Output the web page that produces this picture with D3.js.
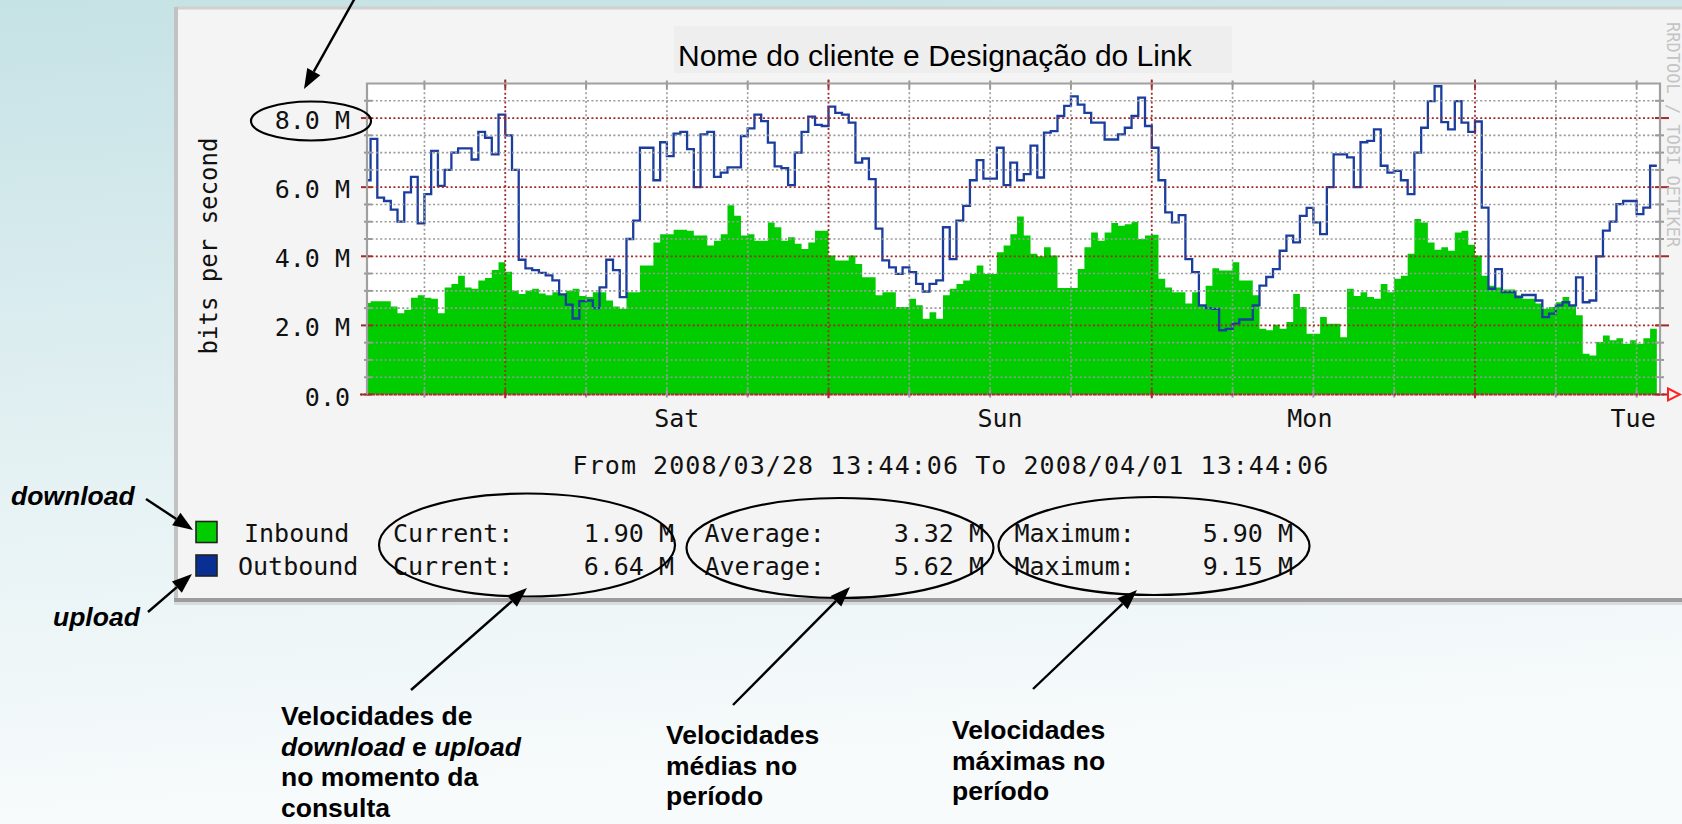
<!DOCTYPE html>
<html>
<head>
<meta charset="utf-8">
<script src="https://cdn.jsdelivr.net/npm/d3@7"></script>
<style>
  body { margin: 0; overflow: hidden; }
  svg { display: block; }
</style>
</head>
<body>
<div id="chart"></div>
<script>
// traffic, in Mbit/s, one value per 30 minutes from Fri 13:30
const inbound = [
  2.65, 2.7, 2.7, 2.7, 2.55, 2.35, 2.45, 2.8, 2.87, 2.8,
  2.77, 2.35, 3.1, 3.2, 3.44, 3.1, 3.06, 3.3, 3.37, 3.6,
  3.83, 3.55, 3.0, 2.91, 3.0, 3.06, 2.92, 2.87, 2.96, 2.9,
  3.0, 3.06, 2.85, 2.82, 2.96, 2.96, 2.72, 2.55, 2.48, 2.96,
  2.96, 3.73, 3.73, 4.4, 4.64, 4.64, 4.77, 4.77, 4.74, 4.6,
  4.6, 4.31, 4.45, 4.64, 5.48, 5.17, 4.6, 4.64, 4.45, 4.45,
  4.98, 4.84, 4.45, 4.55, 4.36, 4.21, 4.4, 4.74, 4.74, 4.02,
  3.88, 3.88, 4.02, 3.78, 3.39, 3.39, 2.87, 2.96, 2.96, 2.53,
  2.53, 2.77, 2.58, 2.19, 2.38, 2.19, 2.87, 3.06, 3.2, 3.3,
  3.49, 3.73, 3.49, 3.49, 4.12, 4.31, 4.64, 5.15, 4.6, 4.07,
  4.0, 4.26, 4.02, 3.08, 3.08, 3.08, 3.63, 4.26, 4.69, 4.45,
  4.69, 4.96, 4.88, 4.93, 5.0, 4.5, 4.6, 4.62, 3.35, 3.1,
  2.96, 2.96, 2.63, 2.96, 2.58, 3.15, 3.65, 3.59, 3.59, 3.83,
  3.3, 3.3, 2.87, 1.9, 1.86, 2.02, 1.9, 2.1, 2.91, 2.53,
  1.76, 1.76, 2.24, 2.05, 2.05, 1.66, 3.06, 2.85, 2.96, 2.82,
  2.77, 3.2, 2.96, 3.35, 3.44, 4.07, 5.08, 4.98, 4.4, 4.19,
  4.26, 4.16, 4.69, 4.74, 4.33, 4.02, 3.44, 3.15, 3.1, 3.04,
  3.04, 2.87, 2.77, 2.77, 2.63, 2.48, 2.53, 2.67, 2.82, 2.58,
  2.29, 1.18, 1.13, 1.52, 1.71, 1.57, 1.63, 1.47, 1.57, 1.47,
  1.63, 1.9
];
const outbound = [
  6.2, 7.4, 5.7, 5.6, 5.35, 5.0, 5.85, 6.3, 4.95, 5.8,
  7.05, 6.04, 6.5, 7.0, 7.12, 7.12, 6.8, 7.6, 7.43, 6.95,
  8.1, 7.5, 6.5, 3.9, 3.65, 3.6, 3.52, 3.45, 3.3, 2.9,
  2.6, 2.2, 2.7, 2.72, 2.5, 3.1, 3.9, 3.6, 2.82, 4.5,
  5.03, 7.14, 7.14, 6.2, 7.3, 6.9, 7.55, 7.6, 7.1, 6.0,
  7.53, 7.6, 6.3, 6.42, 6.57, 6.57, 7.48, 7.7, 8.1, 7.91,
  7.29, 6.6, 6.55, 6.06, 7.0, 7.6, 8.04, 7.8, 7.77, 8.33,
  8.15, 8.1, 7.87, 6.71, 6.83, 6.23, 4.8, 3.88, 3.68, 3.49,
  3.68, 3.54, 3.2, 2.98, 3.2, 3.3, 4.84, 3.92, 5.03, 5.46,
  6.2, 6.78, 6.25, 6.25, 7.14, 6.06, 6.71, 6.2, 6.38, 7.2,
  6.28, 7.58, 7.62, 8.06, 8.35, 8.63, 8.39, 8.15, 7.87, 7.87,
  7.38, 7.38, 7.53, 7.72, 8.06, 8.59, 7.77, 7.14, 6.2, 5.27,
  4.98, 5.19, 3.92, 3.54, 2.58, 2.5, 2.48, 1.86, 1.9, 2.05,
  2.17, 2.17, 2.58, 3.15, 3.4, 3.63, 4.16, 4.6, 4.4, 5.17,
  5.4, 4.98, 4.64, 6.0, 6.95, 6.95, 6.86, 6.0, 7.3, 7.34,
  7.67, 6.62, 6.42, 6.47, 6.2, 5.8, 7.0, 7.72, 8.49, 8.92,
  7.88, 7.67, 8.49, 7.87, 7.6, 7.9, 5.41, 3.06, 3.63, 2.96,
  2.96, 2.82, 2.88, 2.88, 2.72, 2.24, 2.34, 2.58, 2.67, 2.58,
  3.39, 2.67, 2.72, 4.0, 4.74, 5.0, 5.51, 5.6, 5.6, 5.22,
  5.41, 6.62
];

const yTicks = [0, 2, 4, 6, 8];
const yTickLabels = ["0.0", "2.0 M", "4.0 M", "6.0 M", "8.0 M"];
const dayLabels = ["Sat", "Sun", "Mon", "Tue"];
// where rrdtool put the day labels (UTC)
const dayLabelTimes = [
  Date.UTC(2008, 2, 29, 13), Date.UTC(2008, 2, 30, 13),
  Date.UTC(2008, 2, 31, 12), Date.UTC(2008, 3, 1, 12)
];
const legendNames = ["Inbound", "Outbound"];
const statNames = ["Current:", "Average:", "Maximum:"];
const inboundStats = ["1.90 M", "3.32 M", "5.90 M"];
const outboundStats = ["6.64 M", "5.62 M", "9.15 M"];
const chartTitle = "Nome do cliente e Designação do Link";
const periodText = "From 2008/03/28 13:44:06 To 2008/04/01 13:44:06";
const yTitle = "bits per second";

const W = 1682, H = 824;
const mono = "'DejaVu Sans Mono', monospace";
const sans = "'Liberation Sans', Arial, sans-serif";
const green = "#00cc00", blue = "#1b3d9e", red = "#a32a2a", grey = "#9a9a9a";

const tStart = new Date(Date.UTC(2008, 2, 28, 13, 44, 6));
const tEnd = new Date(Date.UTC(2008, 3, 1, 13, 44, 6));
const t0 = Date.UTC(2008, 2, 28, 13, 30);
const step = 30 * 60 * 1000;

const plot = { left: 367, right: 1660, top: 83.5, bottom: 394.5 };

const x = d3.scaleUtc().domain([tStart, tEnd]).range([plot.left, plot.right]);
const y = d3.scaleLinear().domain([0, 9]).range([plot.bottom, plot.top]);

const rows = inbound.map((v, i) => ({ t: new Date(t0 + i * step), inV: v, outV: outbound[i] }));
rows.push({ t: new Date(t0 + inbound.length * step), inV: inbound[inbound.length - 1], outV: outbound[outbound.length - 1] });

const svg = d3.select("#chart").append("svg")
  .attr("width", W).attr("height", H);

// slide background
const defs = svg.append("defs");
const bg = defs.append("linearGradient").attr("id", "bg")
  .attr("x1", 0).attr("y1", 0).attr("x2", 0.15).attr("y2", 1);
bg.append("stop").attr("offset", "0%").attr("stop-color", "#c5e2e5");
bg.append("stop").attr("offset", "55%").attr("stop-color", "#e4f1f3");
bg.append("stop").attr("offset", "100%").attr("stop-color", "#f8fbfc");
svg.append("rect").attr("width", W).attr("height", H).attr("fill", "url(#bg)");

defs.append("clipPath").attr("id", "plotclip")
  .append("rect")
  .attr("x", plot.left).attr("y", plot.top)
  .attr("width", plot.right - plot.left).attr("height", plot.bottom - plot.top);

// graph panel
svg.append("rect").attr("x", 176).attr("y", 8).attr("width", W - 176).attr("height", 593)
  .attr("fill", "#f4f4f4");
svg.append("line").attr("x1", 176).attr("x2", W).attr("y1", 8).attr("y2", 8)
  .attr("stroke", "#d0d0d0").attr("stroke-width", 3);
svg.append("line").attr("x1", 176).attr("x2", 176).attr("y1", 7).attr("y2", 601)
  .attr("stroke", "#c2c2c2").attr("stroke-width", 4);
svg.append("line").attr("x1", 174).attr("x2", W).attr("y1", 600).attr("y2", 600)
  .attr("stroke", "#9c9c9c").attr("stroke-width", 4);
svg.append("line").attr("x1", 174).attr("x2", W).attr("y1", 603.5).attr("y2", 603.5)
  .attr("stroke", "#d8dcdd").attr("stroke-width", 3);

// title
svg.append("rect").attr("x", 674).attr("y", 26).attr("width", 558).attr("height", 47)
  .attr("fill", "#eeeeee");
svg.append("text").attr("x", 678).attr("y", 66)
  .attr("font-family", sans).attr("font-size", 30).attr("fill", "#000")
  .text(chartTitle);

// plot area
svg.append("rect").attr("x", plot.left).attr("y", plot.top)
  .attr("width", plot.right - plot.left).attr("height", plot.bottom - plot.top)
  .attr("fill", "#fff");

const area = d3.area()
  .curve(d3.curveStepAfter)
  .x(d => x(d.t))
  .y0(y(0))
  .y1(d => y(d.inV));

const line = d3.line()
  .curve(d3.curveStepAfter)
  .x(d => x(d.t))
  .y(d => y(d.outV));

const pg = svg.append("g").attr("clip-path", "url(#plotclip)");
pg.append("path").datum(rows).attr("d", area).attr("fill", green);

// grid
const grid = svg.append("g");
const hMinor = d3.range(0.5, 9, 0.5).filter(v => v % 2 !== 0);
grid.selectAll(".hmin").data(hMinor).enter().append("line")
  .attr("x1", plot.left).attr("x2", plot.right)
  .attr("y1", d => y(d)).attr("y2", d => y(d))
  .attr("stroke", grey).attr("stroke-width", 1.6).attr("stroke-dasharray", "2,2.4");
const vLines = d3.utcHour.every(6).range(tStart, tEnd);
grid.selectAll(".vmin").data(vLines.filter(d => d.getUTCHours() !== 0)).enter().append("line")
  .attr("x1", d => x(d)).attr("x2", d => x(d))
  .attr("y1", plot.top).attr("y2", plot.bottom)
  .attr("stroke", grey).attr("stroke-width", 1.6).attr("stroke-dasharray", "2,2.4");
grid.selectAll(".hmaj").data(yTicks).enter().append("line")
  .attr("x1", plot.left).attr("x2", plot.right)
  .attr("y1", d => y(d)).attr("y2", d => y(d))
  .attr("stroke", red).attr("stroke-width", 1.8).attr("stroke-dasharray", "2,2.4");
grid.selectAll(".vmaj").data(vLines.filter(d => d.getUTCHours() === 0)).enter().append("line")
  .attr("x1", d => x(d)).attr("x2", d => x(d))
  .attr("y1", plot.top - 4).attr("y2", plot.bottom + 5)
  .attr("stroke", red).attr("stroke-width", 1.8).attr("stroke-dasharray", "2,2.4");

// tick stubs at both ends of the grid lines
const hAll = d3.range(0, 9, 0.5);
grid.selectAll(".hl").data(hAll).enter().append("line")
  .attr("x1", d => d % 2 === 0 ? plot.left - 6 : plot.left - 3)
  .attr("x2", plot.left + 5)
  .attr("y1", d => y(d)).attr("y2", d => y(d))
  .attr("stroke", d => d % 2 === 0 ? red : grey).attr("stroke-width", 2);
grid.selectAll(".hr").data(hAll).enter().append("line")
  .attr("x1", plot.right - 5)
  .attr("x2", d => d % 2 === 0 ? plot.right + 9 : plot.right + 4)
  .attr("y1", d => y(d)).attr("y2", d => y(d))
  .attr("stroke", d => d % 2 === 0 ? red : grey).attr("stroke-width", 2);
grid.selectAll(".vt").data(vLines).enter().append("line")
  .attr("x1", d => x(d)).attr("x2", d => x(d))
  .attr("y1", plot.top - 3).attr("y2", plot.top + 5)
  .attr("stroke", d => d.getUTCHours() === 0 ? red : grey).attr("stroke-width", 2);
grid.selectAll(".vb").data(vLines).enter().append("line")
  .attr("x1", d => x(d)).attr("x2", d => x(d))
  .attr("y1", plot.bottom - 5).attr("y2", plot.bottom + 3)
  .attr("stroke", d => d.getUTCHours() === 0 ? red : grey).attr("stroke-width", 2);

// outbound line above the grid
pg.append("path").datum(rows).attr("d", line)
  .attr("fill", "none").attr("stroke", blue).attr("stroke-width", 2.3);

// frame
svg.append("path")
  .attr("d", `M${plot.left},${plot.bottom}V${plot.top}H${plot.right}V${plot.bottom}`)
  .attr("fill", "none").attr("stroke", "#a0a0a0").attr("stroke-width", 2.2);
svg.append("line").attr("x1", plot.left - 7).attr("x2", plot.right + 8)
  .attr("y1", y(0)).attr("y2", y(0))
  .attr("stroke", red).attr("stroke-width", 2).attr("stroke-dasharray", "2,2.4");
svg.append("path")
  .attr("d", `M${plot.right + 8},${y(0) - 6}L${plot.right + 20},${y(0)}L${plot.right + 8},${y(0) + 6}Z`)
  .attr("fill", "none").attr("stroke", "#ff2020").attr("stroke-width", 2);

// axes
const yAxis = svg.append("g")
  .attr("transform", `translate(${plot.left - 17},0)`)
  .call(d3.axisLeft(y).tickValues(yTicks).tickFormat((d, i) => yTickLabels[i]).tickSize(0).tickPadding(0));
yAxis.select(".domain").remove();
yAxis.selectAll("text")
  .attr("font-family", mono).attr("font-size", 25).attr("fill", "#111").attr("dy", "0.42em");

const xAxis = svg.append("g")
  .attr("transform", `translate(0,${plot.bottom})`)
  .call(d3.axisBottom(x).tickValues(dayLabelTimes.map(t => new Date(t)))
    .tickFormat((d, i) => dayLabels[i]).tickSize(0).tickPadding(0));
xAxis.select(".domain").remove();
xAxis.selectAll("text")
  .attr("font-family", mono).attr("font-size", 25).attr("fill", "#111")
  .attr("dy", null).attr("y", 32).attr("dx", -4);

svg.append("text")
  .attr("transform", "translate(217,246) rotate(-90)")
  .attr("text-anchor", "middle")
  .attr("font-family", mono).attr("font-size", 24).attr("fill", "#111")
  .text(yTitle);

svg.append("text").attr("x", 951).attr("y", 474).attr("text-anchor", "middle")
  .attr("font-family", mono).attr("font-size", 25).attr("letter-spacing", 1.05).attr("fill", "#111")
  .text(periodText);

svg.append("text")
  .attr("transform", "translate(1667,22) rotate(90)")
  .attr("font-family", mono).attr("font-size", 17).attr("fill", "#c4c4c4")
  .text("RRDTOOL / TOBI OETIKER");

// legend
const legend = svg.append("g").attr("font-family", mono).attr("font-size", 25).attr("fill", "#111");
const legendRows = [
  { name: legendNames[0], color: green, stats: inboundStats, base: 541.5, nx: 244 },
  { name: legendNames[1], color: "#0a2f92", stats: outboundStats, base: 575, nx: 238 }
];
const statX = [393, 704.5, 1014.5];
const valX = [674, 984, 1293];
legendRows.forEach(r => {
  legend.append("rect").attr("x", 196).attr("y", r.base - 20).attr("width", 21).attr("height", 21)
    .attr("fill", r.color).attr("stroke", "#222").attr("stroke-width", 1.6);
  legend.append("text").attr("x", r.nx).attr("y", r.base).text(r.name);
  statNames.forEach((s, i) => {
    legend.append("text").attr("x", statX[i]).attr("y", r.base).text(s);
    legend.append("text").attr("x", valX[i]).attr("y", r.base).attr("text-anchor", "end").text(r.stats[i]);
  });
});

// annotations
const ann = svg.append("g");
ann.selectAll("ellipse")
  .data([[311, 121, 60, 19.5], [527, 545, 148, 51.5], [840, 548, 153.5, 50], [1154, 546, 155.5, 49]])
  .enter().append("ellipse")
  .attr("cx", d => d[0]).attr("cy", d => d[1]).attr("rx", d => d[2]).attr("ry", d => d[3])
  .attr("fill", "none").attr("stroke", "#000").attr("stroke-width", 2.2);

function arrow(x1, y1, x2, y2) {
  const a = Math.atan2(y2 - y1, x2 - x1);
  const L = 20, hw = 7.5;
  const bx = x2 - L * Math.cos(a), by = y2 - L * Math.sin(a);
  ann.append("line").attr("x1", x1).attr("y1", y1).attr("x2", bx).attr("y2", by)
    .attr("stroke", "#000").attr("stroke-width", 2.4);
  ann.append("path")
    .attr("d", `M${x2},${y2}L${bx + hw * Math.sin(a)},${by - hw * Math.cos(a)}L${bx - hw * Math.sin(a)},${by + hw * Math.cos(a)}Z`)
    .attr("fill", "#000");
}
arrow(355, -2, 304, 89);
arrow(146, 499, 193, 530);
arrow(148, 612, 192, 574);
arrow(411, 690, 527, 588);
arrow(733, 705, 850, 587);
arrow(1033, 689, 1137, 590);

const note = ann.append("g").attr("font-family", sans).attr("font-weight", "bold")
  .attr("font-size", 26.5).attr("fill", "#000");
note.append("text").attr("x", 11).attr("y", 505).attr("font-style", "italic").text("download");
note.append("text").attr("x", 53).attr("y", 626).attr("font-style", "italic").text("upload");

const lh = 30.6;
const block1 = note.append("text");
block1.append("tspan").attr("x", 281).attr("y", 725).text("Velocidades de");
const l2 = block1.append("tspan").attr("x", 281).attr("y", 725 + lh);
l2.append("tspan").attr("font-style", "italic").text("download");
l2.append("tspan").text(" e ");
l2.append("tspan").attr("font-style", "italic").text("upload");
block1.append("tspan").attr("x", 281).attr("y", 725 + 2 * lh).text("no momento da");
block1.append("tspan").attr("x", 281).attr("y", 725 + 3 * lh).text("consulta");

[["Velocidades", "médias no", "período", 666, 744], ["Velocidades", "máximas no", "período", 952, 739]]
  .forEach(b => {
    const t = note.append("text");
    [b[0], b[1], b[2]].forEach((s, i) => {
      t.append("tspan").attr("x", b[3]).attr("y", b[4] + i * lh).text(s);
    });
  });
</script>
</body>
</html>
